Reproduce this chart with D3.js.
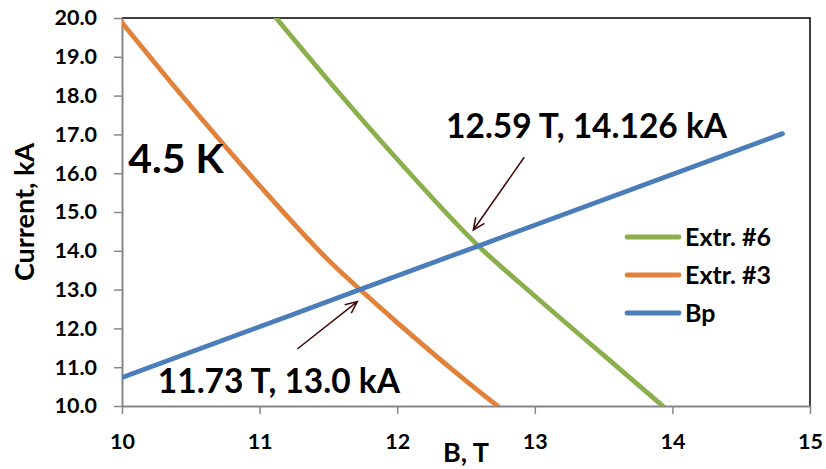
<!DOCTYPE html>
<html>
<head>
<meta charset="utf-8">
<script src="https://cdn.jsdelivr.net/npm/d3@7"></script>
<style>
  html, body { margin: 0; padding: 0; background: #fff; }
  svg { display: block; font-family: Lato, "Open Sans", sans-serif; font-weight: bold; }
</style>
</head>
<body>
<svg id="chart" width="826" height="469"></svg>
<script>
// Critical current of two extracted strands vs. peak field on the conductor (Bp load line)
const bpB = [10, 11.73, 12.59, 14.8];
const bpI = [10.735, 13.0, 14.126, 17.02];

const extr3B = [10, 10.5, 11, 11.5, 11.73, 12, 12.5, 12.73];
const extr3I = [19.88, 17.73, 15.68, 13.76, 13.0, 12.15, 10.65, 10.0];

const extr6B = [11.12, 11.5, 12, 12.59, 13, 13.5, 13.93];
const extr6I = [20.0, 18.39, 16.36, 14.126, 12.835, 11.31, 10.0];

const seriesNames = ["Extr. #6", "Extr. #3", "Bp"];
const seriesColors = ["#8BAF4C", "#E2823A", "#4A7DB9"];

const xTicks = [10, 11, 12, 13, 14, 15];
const yTicks = [10, 11, 12, 13, 14, 15, 16, 17, 18, 19, 20];

// Intersection call-outs: label text, label anchor, arrow tail and tip (B, I)
const callouts = [
  { text: "12.59 T, 14.126 kA", at: [12.355, 16.9], tail: [12.923, 16.41], tip: [12.553, 14.536] },
  { text: "11.73 T, 13.0 kA",   at: [10.26, 10.33], tail: [11.274, 11.47], tip: [11.71, 12.69] }
];

const svg = d3.select("#chart");
const m = { left: 122, top: 18, right: 16, bottom: 63 };
const W = 826, H = 469;
const x = d3.scaleLinear().domain([10, 15]).range([m.left, W - m.right]);
const y = d3.scaleLinear().domain([10, 20]).range([H - m.bottom, m.top]);

svg.append("defs").append("clipPath").attr("id", "plot")
  .append("rect")
  .attr("x", x(10)).attr("y", y(20))
  .attr("width", x(15) - x(10)).attr("height", y(10) - y(20));

// Top and right frame of the plot area
svg.append("path")
  .attr("d", `M${x(10)},${y(20)}H${x(15)}V${y(10)}`)
  .attr("fill", "none").attr("stroke", "#000").attr("stroke-width", 1.5);

// Axes
const axisGray = "#868686";
const yAxis = svg.append("g").attr("transform", `translate(${x(10)},0)`)
  .call(d3.axisLeft(y).tickValues(yTicks).tickFormat(d3.format(".1f"))
    .tickSize(8).tickSizeOuter(0).tickPadding(17));
const xAxis = svg.append("g").attr("transform", `translate(0,${y(10)})`)
  .call(d3.axisBottom(x).tickValues(xTicks).tickFormat(d3.format("d"))
    .tickSize(8).tickSizeOuter(0).tickPadding(20));
[yAxis, xAxis].forEach(g => {
  g.select(".domain").attr("stroke", axisGray).attr("stroke-width", 2);
  g.selectAll(".tick line").attr("stroke", axisGray).attr("stroke-width", 1.5);
  g.selectAll("text").attr("fill", "#000").style("font-size", "21.5px")
    .style("font-family", "Lato, sans-serif").style("font-weight", "bold");
});

// Axis titles
svg.append("text").attr("x", (x(10) + x(15)) / 2).attr("y", 462)
  .attr("text-anchor", "middle").style("font-size", "27px").text("B, T");
svg.append("text")
  .attr("transform", `translate(34,${(y(10) + y(20)) / 2}) rotate(-90)`)
  .attr("text-anchor", "middle").style("font-size", "27px").text("Current, kA");

// Series lines
const line = d3.line().x(d => x(d[0])).y(d => y(d[1])).curve(d3.curveMonotoneX);
const series = [
  d3.zip(extr6B, extr6I),
  d3.zip(extr3B, extr3I),
  d3.zip(bpB, bpI)
];
const plot = svg.append("g").attr("clip-path", "url(#plot)");
series.forEach((pts, i) => {
  plot.append("path").datum(pts)
    .attr("d", line)
    .attr("fill", "none")
    .attr("stroke", seriesColors[i])
    .attr("stroke-width", 4.8)
    .attr("stroke-linecap", "round")
    .attr("stroke-linejoin", "round");
});

// Temperature label
svg.append("text").attr("x", x(10.045)).attr("y", y(16.0))
  .style("font-size", "41px").text("4.5 K");

// Call-outs with arrows
const arrowColor = "#3D0A0A";
callouts.forEach(c => {
  const [x1, y1] = [x(c.tail[0]), y(c.tail[1])];
  const [x2, y2] = [x(c.tip[0]), y(c.tip[1])];
  const ang = Math.atan2(y2 - y1, x2 - x1);
  const L = 13, spread = 0.42;
  const h1 = [x2 - L * Math.cos(ang - spread), y2 - L * Math.sin(ang - spread)];
  const h2 = [x2 - L * Math.cos(ang + spread), y2 - L * Math.sin(ang + spread)];
  svg.append("path")
    .attr("d", `M${x1},${y1}L${x2},${y2}M${h1[0]},${h1[1]}L${x2},${y2}L${h2[0]},${h2[1]}`)
    .attr("fill", "none").attr("stroke", arrowColor).attr("stroke-width", 1.5);
  svg.append("text").attr("x", x(c.at[0])).attr("y", y(c.at[1]))
    .style("font-size", "33.5px").text(c.text);
});

// Legend
const legend = svg.append("g");
seriesNames.forEach((name, i) => {
  const ly = 237 + i * 38;
  legend.append("line").attr("x1", 627).attr("x2", 679).attr("y1", ly).attr("y2", ly)
    .attr("stroke", seriesColors[i]).attr("stroke-width", 4.8).attr("stroke-linecap", "round");
  legend.append("text").attr("x", 685).attr("y", ly + 9)
    .style("font-size", "25px").text(name);
});
</script>
</body>
</html>
